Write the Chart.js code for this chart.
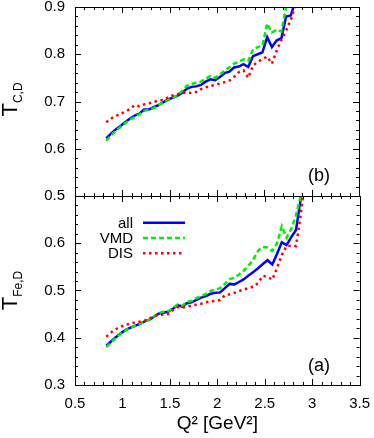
<!DOCTYPE html>
<html>
<head>
<meta charset="utf-8">
<script src="https://cdn.jsdelivr.net/npm/chart.js@4.4.1/dist/chart.umd.min.js"></script>
<style>
    html, body { margin: 0; padding: 0; background: #fff; }
    #wrap { position: relative; width: 374px; height: 438px; overflow: hidden; }
    canvas { position: absolute; left: 0; }
    #topChart { top: -13px; width: 374px; height: 228px; }
    #botChart { top: 176px; width: 380px; height: 262px; }
</style>
</head>
<body>
<div id="wrap">
    <canvas id="topChart" width="374" height="228"></canvas>
    <canvas id="botChart" width="380" height="262"></canvas>
</div>
<script>
// Q^2 grid [GeV^2]
const q2 = [
    0.83, 0.88, 0.93, 0.98, 1.03, 1.08, 1.13, 1.18, 1.23, 1.28, 1.33, 1.38,
    1.43, 1.48, 1.53, 1.58, 1.63, 1.68, 1.73, 1.78, 1.83, 1.88, 1.93, 1.98,
    2.03, 2.08, 2.13, 2.18, 2.23, 2.28, 2.33, 2.38, 2.43, 2.48, 2.53, 2.58,
    2.63, 2.68, 2.73, 2.78, 2.83, 2.88, 2.93,
];

// panel (b): carbon
const carbonAll = [
    0.622, 0.632, 0.641, 0.648, 0.656, 0.664, 0.670, 0.674, 0.683, 0.683, 0.688, 0.692,
    0.698, 0.704, 0.708, 0.712, 0.718, 0.727, 0.731, 0.732, 0.735, 0.742, 0.747, 0.745,
    0.752, 0.760, 0.763, 0.772, 0.774, 0.779, 0.773, 0.796, 0.800, 0.804, 0.836, 0.815,
    0.829, 0.834, 0.880, 0.882, 0.915, 0.950, 1.000,
];
const carbonVmd = [
    0.617, 0.628, 0.638, 0.646, 0.654, 0.662, 0.667, 0.673, 0.680, 0.683, 0.686, 0.692,
    0.697, 0.703, 0.707, 0.713, 0.722, 0.733, 0.737, 0.740, 0.742, 0.748, 0.754, 0.750,
    0.757, 0.766, 0.772, 0.780, 0.784, 0.789, 0.786, 0.810, 0.815, 0.818, 0.865, 0.846,
    0.852, 0.848, 0.900, 0.930, 0.960, 1.000, 1.000,
];
const carbonDis = [
    0.656, 0.664, 0.669, 0.674, 0.678, 0.684, 0.692, 0.690, 0.694, 0.696, 0.699, 0.702,
    0.703, 0.708, 0.713, 0.715, 0.718, 0.719, 0.718, 0.720, 0.726, 0.730, 0.733, 0.735,
    0.738, 0.741, 0.744, 0.752, 0.762, 0.766, 0.750, 0.776, 0.784, 0.790, 0.795, 0.780,
    0.808, 0.830, 0.850, 0.873, 0.905, 0.940, 1.000,
];

// panel (a): iron
const ironAll = [
    0.383, 0.392, 0.401, 0.409, 0.416, 0.421, 0.425, 0.429, 0.434, 0.438, 0.444, 0.451,
    0.453, 0.455, 0.461, 0.469, 0.466, 0.473, 0.475, 0.480, 0.485, 0.488, 0.493, 0.495,
    0.496, 0.505, 0.514, 0.513, 0.518, 0.524, 0.532, 0.539, 0.547, 0.556, 0.564, 0.555,
    0.578, 0.602, 0.596, 0.613, 0.628, 0.695, 0.750,
];
const ironVmd = [
    0.380, 0.390, 0.400, 0.408, 0.415, 0.421, 0.425, 0.429, 0.434, 0.438, 0.445, 0.452,
    0.455, 0.456, 0.462, 0.470, 0.468, 0.476, 0.478, 0.484, 0.488, 0.493, 0.499, 0.502,
    0.505, 0.514, 0.524, 0.527, 0.534, 0.542, 0.553, 0.566, 0.584, 0.592, 0.591, 0.584,
    0.600, 0.636, 0.612, 0.630, 0.660, 0.700, 0.750,
];
const ironDis = [
    0.402, 0.411, 0.418, 0.423, 0.427, 0.430, 0.432, 0.434, 0.436, 0.440, 0.446, 0.448,
    0.449, 0.450, 0.458, 0.465, 0.464, 0.466, 0.468, 0.470, 0.472, 0.475, 0.477, 0.478,
    0.480, 0.490, 0.492, 0.495, 0.499, 0.502, 0.505, 0.508, 0.516, 0.531, 0.529, 0.523,
    0.548, 0.575, 0.594, 0.595, 0.594, 0.660, 0.750,
];

const seriesNames = ["all", "VMD", "DIS"];
const FONT = "'Liberation Sans', Arial, Helvetica, sans-serif";

Chart.defaults.font.family = FONT;
Chart.defaults.color = "#000";

function fmt(v) {
    return String(Math.round(v * 10) / 10);
}

function pairs(values) {
    return q2.map((x, i) => ({ x: x, y: values[i] }));
}

function makeDatasets(all, vmd, dis) {
    return [
        {
            label: seriesNames[0], data: pairs(all), borderColor: "#0000ff",
            borderWidth: 2.5, order: 2,
        },
        {
            label: seriesNames[1], data: pairs(vmd), borderColor: "#00ee00",
            borderWidth: 2.5, borderDash: [5, 3], order: 1,
        },
        {
            label: seriesNames[2], data: pairs(dis), borderColor: "#ff0000",
            borderWidth: 2.5, borderDash: [2.5, 3.5], order: 0,
        },
    ];
}

// frame with inward ticks on all four sides, y title, panel tag, legend
const framePlugin = {
    id: "frame",
    afterDatasetsDraw(chart, args, opts) {
        const ctx = chart.ctx;
        const a = chart.chartArea;
        const xs = chart.scales.x;
        const ys = chart.scales.y;
        ctx.save();
        ctx.strokeStyle = "#000";
        ctx.lineWidth = 1;
        ctx.beginPath();
        const nx = Math.round((xs.max - xs.min) / 0.1);
        for (let i = 0; i <= nx; i++) {
            const px = Math.round(xs.getPixelForValue(xs.min + i * 0.1)) + 0.5;
            const len = i % 5 === 0 ? 6 : 3;
            ctx.moveTo(px, a.top);
            ctx.lineTo(px, a.top + len);
            ctx.moveTo(px, a.bottom);
            ctx.lineTo(px, a.bottom - len);
        }
        const ny = Math.round((ys.max - ys.min) / 0.02);
        for (let i = 0; i <= ny; i++) {
            const py = Math.round(ys.getPixelForValue(ys.min + i * 0.02)) + 0.5;
            const len = i % 5 === 0 ? 6 : 3;
            ctx.moveTo(a.left, py);
            ctx.lineTo(a.left + len, py);
            ctx.moveTo(a.right, py);
            ctx.lineTo(a.right - len, py);
        }
        ctx.stroke();
        ctx.strokeRect(
            Math.round(a.left) + 0.5,
            Math.round(a.top) + 0.5,
            Math.round(a.right - a.left),
            Math.round(a.bottom - a.top),
        );

        // y title with subscript
        ctx.fillStyle = "#000";
        ctx.translate(17, opts.titleY);
        ctx.rotate(-Math.PI / 2);
        ctx.font = `22px ${FONT}`;
        const wMain = ctx.measureText("T").width;
        ctx.font = `12px ${FONT}`;
        const wSub = ctx.measureText(opts.sub).width;
        const x0 = -(wMain + wSub) / 2;
        ctx.textBaseline = "alphabetic";
        ctx.font = `22px ${FONT}`;
        ctx.fillText("T", x0, 0);
        ctx.font = `12px ${FONT}`;
        ctx.fillText(opts.sub, x0 + wMain, 4.5);
        ctx.setTransform(1, 0, 0, 1, 0, 0);

        // panel tag
        ctx.font = `18px ${FONT}`;
        ctx.textAlign = "center";
        ctx.fillText(opts.tag, 319, opts.tagY);

        // legend
        if (opts.legendY !== undefined) {
            ctx.font = `15px ${FONT}`;
            ctx.textAlign = "right";
            ctx.textBaseline = "middle";
            chart.data.datasets.forEach((ds, i) => {
                const y = opts.legendY + i * 15.3;
                ctx.fillText(ds.label, 133, y + 1);
                ctx.save();
                ctx.strokeStyle = ds.borderColor;
                ctx.lineWidth = ds.borderWidth;
                ctx.setLineDash(ds.borderDash || []);
                ctx.beginPath();
                ctx.moveTo(143, y);
                ctx.lineTo(185, y);
                ctx.stroke();
                ctx.restore();
            });
        }
        ctx.restore();
    },
};

function yScale(min, max, hideTop) {
    return {
        type: "linear",
        min: min,
        max: max,
        afterFit: (s) => {
            s.width = 75;
        },
        grid: { display: false, drawTicks: false },
        border: { display: false },
        ticks: {
            stepSize: 0.1,
            padding: 10,
            font: { size: 15 },
            callback: (v) => (hideTop && Math.abs(v - max) < 1e-6 ? "" : fmt(v)),
        },
    };
}

new Chart(document.getElementById("topChart"), {
    type: "line",
    data: { datasets: makeDatasets(carbonAll, carbonVmd, carbonDis) },
    plugins: [framePlugin],
    options: {
        responsive: false,
        animation: false,
        layout: { padding: { top: 20, right: 15, bottom: 11, left: 0 } },
        elements: { point: { radius: 0 }, line: { tension: 0 } },
        scales: {
            x: { type: "linear", min: 0.5, max: 3.5, display: false },
            y: yScale(0.5, 0.9, false),
        },
        plugins: {
            legend: { display: false },
            tooltip: { enabled: false },
            frame: { sub: "C,D", titleY: 112.5, tag: "(b)", tagY: 194 },
        },
    },
});

new Chart(document.getElementById("botChart"), {
    type: "line",
    data: { datasets: makeDatasets(ironAll, ironVmd, ironDis) },
    plugins: [framePlugin],
    options: {
        responsive: false,
        animation: false,
        layout: { padding: { top: 20, right: 15, bottom: 0, left: 0 } },
        elements: { point: { radius: 0 }, line: { tension: 0 } },
        scales: {
            x: {
                type: "linear",
                min: 0.5,
                max: 3.5,
                afterFit: (s) => {
                    s.height = 53;
                },
                grid: { display: false, drawTicks: false },
                border: { display: false },
                ticks: {
                    stepSize: 0.5,
                    padding: 10,
                    maxRotation: 0,
                    autoSkip: false,
                    font: { size: 15 },
                    callback: fmt,
                },
                title: {
                    display: true,
                    text: "Q² [GeV²]",
                    font: { size: 19 },
                    padding: { top: 0, bottom: 3 },
                },
            },
            y: yScale(0.3, 0.7, true),
        },
        plugins: {
            legend: { display: false },
            tooltip: { enabled: false },
            frame: { sub: "Fe,D", titleY: 114.5, tag: "(a)", tagY: 195, legendY: 46.7 },
        },
    },
});
</script>
</body>
</html>
